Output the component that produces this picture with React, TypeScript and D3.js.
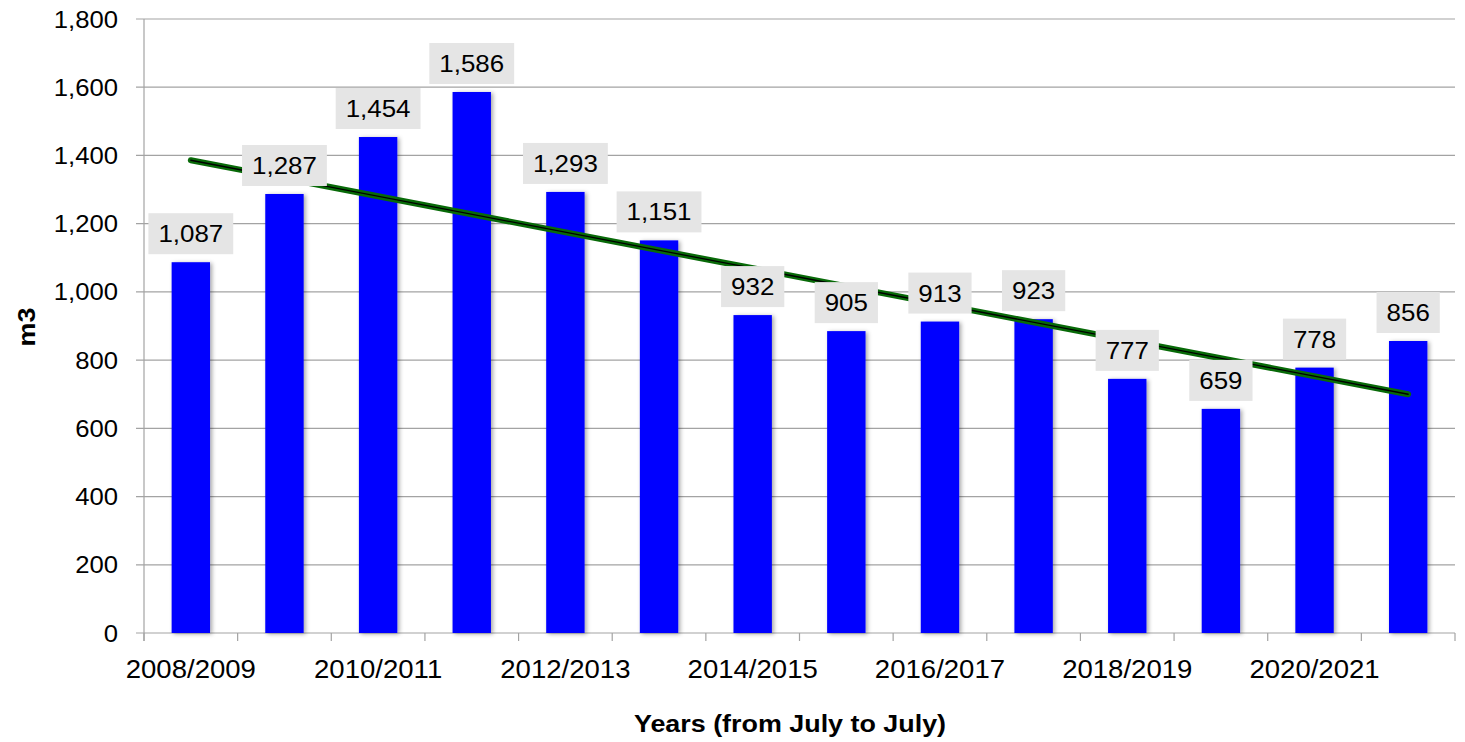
import React, { useRef, useEffect } from "react";
import * as d3 from "d3";

// seasons (July to July)
const seasons = [
  "2008/2009", "2009/2010", "2010/2011", "2011/2012", "2012/2013", "2013/2014", "2014/2015",
  "2015/2016", "2016/2017", "2017/2018", "2018/2019", "2019/2020", "2020/2021", "2021/2022",
];
// printed labels
const reported = [1087, 1287, 1454, 1586, 1293, 1151, 932, 905, 913, 923, 777, 659, 778, 856];
// bar heights as drawn (two bars sit lower than their labels)
const barValues = [1087, 1287, 1454, 1586, 1293, 1151, 932, 885, 913, 920, 745, 657, 778, 856];
const yTicks = [0, 200, 400, 600, 800, 1000, 1200, 1400, 1600, 1800];

const W = 1465;
const H = 742;
const FONT = "'Liberation Sans', Arial, Helvetica, sans-serif";

const App = () => {
  const svgRef = useRef<SVGSVGElement>(null);

  useEffect(() => {
    document.body.style.margin = "0";
    const svg = d3.select(svgRef.current);
    svg.selectAll("*").remove();

    const x = d3.scaleBand().domain(seasons).range([144, 1455]).paddingInner(0.59).paddingOuter(0.295);
    const y = d3.scaleLinear().domain([0, 1800]).range([633, 19]);
    const fmt = d3.format(",");

    const defs = svg.append("defs");
    defs.append("filter")
      .attr("id", "barShadow")
      .attr("x", "-20%").attr("y", "-5%").attr("width", "150%").attr("height", "115%")
      .append("feDropShadow")
      .attr("dx", 2).attr("dy", 1).attr("stdDeviation", 2)
      .attr("flood-color", "#000").attr("flood-opacity", 0.35);

    // gridlines + y ticks
    const grid = svg.append("g");
    grid.selectAll("line")
      .data(yTicks)
      .join("line")
      .attr("x1", 136).attr("x2", 1455)
      .attr("y1", d => y(d)).attr("y2", d => y(d))
      .attr("stroke", "#a3a3a3").attr("stroke-width", 1.2);

    grid.selectAll("text")
      .data(yTicks)
      .join("text")
      .attr("transform", d => `translate(118,${y(d) + 8.5}) scale(1.07,1)`)
      .attr("text-anchor", "end")
      .attr("font-family", FONT).attr("font-size", 24).attr("fill", "#000")
      .text(d => fmt(d));

    // y axis line
    svg.append("line")
      .attr("x1", 144).attr("x2", 144).attr("y1", y(1800)).attr("y2", 641)
      .attr("stroke", "#a3a3a3").attr("stroke-width", 1.2);

    // x tick marks at category boundaries
    const step = x.step();
    const bounds = d3.range(seasons.length + 1).map(i => 144 + i * step);
    svg.append("g").selectAll("line")
      .data(bounds)
      .join("line")
      .attr("x1", d => d).attr("x2", d => d).attr("y1", 633).attr("y2", 641)
      .attr("stroke", "#a3a3a3").attr("stroke-width", 1.2);

    // bars
    svg.append("g").selectAll("rect")
      .data(barValues)
      .join("rect")
      .attr("x", (d, i) => x(seasons[i]))
      .attr("width", x.bandwidth())
      .attr("y", d => y(d))
      .attr("height", d => y(0) - y(d))
      .attr("fill", "#0000ff")
      .attr("filter", "url(#barShadow)");

    // x labels, every other season
    svg.append("g").selectAll("text")
      .data(seasons.filter((s, i) => i % 2 === 0))
      .join("text")
      .attr("transform", d => `translate(${x(d) + x.bandwidth() / 2},678) scale(1.06,1)`)
      .attr("text-anchor", "middle")
      .attr("font-family", FONT).attr("font-size", 26).attr("fill", "#000")
      .text(d => d);

    // linear trend of the reported values
    const xs = reported.map((d, i) => i);
    const mx = d3.mean(xs);
    const my = d3.mean(reported);
    const slope = d3.sum(xs, i => (i - mx) * (reported[i] - my)) / d3.sum(xs, i => (i - mx) ** 2);
    const trendAt = (i: number) => my + slope * (i - mx);
    const cx = (i: number) => x(seasons[i]) + x.bandwidth() / 2;
    const ends = [0, seasons.length - 1];
    const line = d3.line<number>().x(i => cx(i)).y(i => y(trendAt(i)));
    svg.append("path").datum(ends).attr("d", line)
      .attr("stroke", "#086a08").attr("stroke-width", 6).attr("stroke-linecap", "round").attr("fill", "none");
    svg.append("path").datum(ends).attr("d", line)
      .attr("stroke", "#000").attr("stroke-width", 1.3).attr("stroke-linecap", "round").attr("fill", "none");

    // data labels
    const lbl = svg.append("g").selectAll("g")
      .data(reported)
      .join("g")
      .attr("transform", (d, i) => `translate(${cx(i)},${y(barValues[i]) - 8})`);
    const rects = lbl.append("rect").attr("fill", "#e5e5e5");
    const texts = lbl.append("text")
      .attr("transform", "translate(0,-12) scale(1.08,1)")
      .attr("text-anchor", "middle")
      .attr("font-family", FONT).attr("font-size", 24).attr("fill", "#000")
      .text(d => fmt(d));
    texts.each(function (d, i) {
      const w = (this as SVGTextElement).getComputedTextLength() * 1.08 + 20;
      d3.select(rects.nodes()[i]).attr("x", -w / 2).attr("width", w).attr("y", -41).attr("height", 41);
    });

    // axis titles
    svg.append("text")
      .attr("transform", "translate(790,732) scale(1.12,1)")
      .attr("text-anchor", "middle")
      .attr("font-family", FONT).attr("font-size", 24).attr("font-weight", "bold").attr("fill", "#000")
      .text("Years (from July to July)");
    svg.append("text")
      .attr("transform", "translate(35,327) rotate(-90) scale(1.12,1)")
      .attr("text-anchor", "middle")
      .attr("font-family", FONT).attr("font-size", 24).attr("font-weight", "bold").attr("fill", "#000")
      .text("m3");
  }, []);

  return <svg ref={svgRef} width={W} height={H} style={{ display: "block", background: "#fff" }} />;
};

export default App;
